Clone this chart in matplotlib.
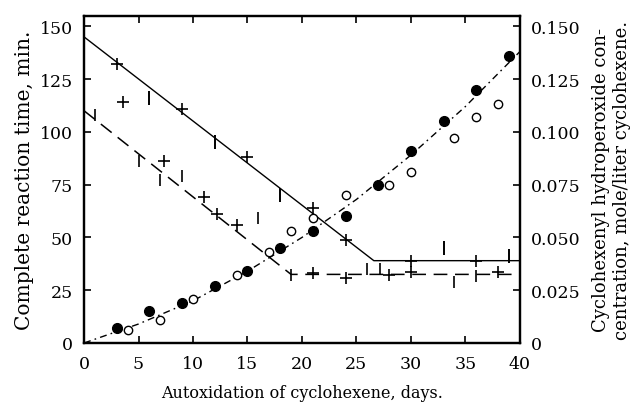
#!/usr/bin/env python3
# -*- coding: utf-8 -*-

import matplotlib
matplotlib.use('Agg')
import matplotlib.pyplot as plt

plt.rcParams['font.family'] = ['DejaVu Serif']

# complete reaction time, upper (solid) set
solid_bar_x = [0, 6, 12, 18, 33, 39]
solid_bar_y = [150, 116, 95, 70, 45, 41]
solid_cross_x = [3, 9, 15, 21, 24, 30, 36]
solid_cross_y = [132, 111, 88, 64, 49, 39, 39]
solid_line_x = [0, 26.6, 40]
solid_line_y = [145, 39, 39]

# complete reaction time, lower (dashed) set
dashed_bar_x = [1, 5, 7, 9, 16, 19, 26, 27.2, 34, 36]
dashed_bar_y = [108, 86, 77, 79, 59, 32, 35, 35, 29, 31.5]
dashed_cross_x = [3.6, 7.3, 11, 12.2, 14, 21, 24, 28, 30, 38]
dashed_cross_y = [114, 86, 69, 61, 56, 33, 31, 32, 33.5, 33.5]
dashed_line_x = [0, 19, 40]
dashed_line_y = [110, 32.5, 32.5]

# hydroperoxide concentration, mole/liter
filled_x = [3, 6, 9, 12, 15, 18, 21, 24, 27, 30, 33, 36, 39]
filled_y = [0.007, 0.015, 0.019, 0.027, 0.034, 0.045, 0.053, 0.060, 0.075,
            0.091, 0.105, 0.120, 0.136]
open_x = [4, 7, 10, 14, 17, 19, 21, 24, 28, 30, 34, 36, 38]
open_y = [0.006, 0.011, 0.021, 0.032, 0.043, 0.053, 0.059, 0.070, 0.075,
          0.081, 0.097, 0.107, 0.113]
curve_x = [0, 5, 10, 15, 20, 25, 30, 35, 40]
curve_y = [0.0, 0.009, 0.020, 0.034, 0.050, 0.068, 0.089, 0.112, 0.138]

left_ticks = [0, 25, 50, 75, 100, 125, 150]
right_ticks = [0, 0.025, 0.050, 0.075, 0.100, 0.125, 0.150]
right_labels = ['0', '0.025', '0.050', '0.075', '0.100', '0.125', '0.150']
x_ticks = [0, 5, 10, 15, 20, 25, 30, 35, 40]

fig = plt.figure(figsize=(6.37, 4.10), dpi=100)
ax = fig.add_axes([0.132, 0.161, 0.684, 0.798])
ax2 = ax.twinx()

ax.plot(solid_line_x, solid_line_y, '-', color='black', lw=1.0)
ax.plot(dashed_line_x, dashed_line_y, color='black', lw=1.1, dashes=(9, 5))
ax.plot(solid_bar_x, solid_bar_y, ls='none', marker='|', ms=10, mew=1.4,
        color='black', clip_on=False)
ax.plot(solid_cross_x, solid_cross_y, ls='none', marker='+', ms=9, mew=1.2,
        color='black')
ax.plot(dashed_bar_x, dashed_bar_y, ls='none', marker='|', ms=8, mew=1.2,
        color='black')
ax.plot(dashed_cross_x, dashed_cross_y, ls='none', marker='+', ms=8, mew=1.2,
        color='black')

ax2.plot(curve_x, curve_y, color='black', lw=1.0, dashes=(5, 3, 1.2, 3))
ax2.plot(filled_x, filled_y, ls='none', marker='o', ms=7, color='black')
ax2.plot(open_x, open_y, ls='none', marker='o', ms=6, mfc='white',
         mec='black', mew=1.0)

ax.set_xlim(0, 40)
ax.set_ylim(0, 155)
ax2.set_ylim(0, 0.155)

ax.set_xticks(x_ticks)
ax.set_xticklabels([str(t) for t in x_ticks])
ax.set_yticks(left_ticks)
ax.set_yticklabels([str(t) for t in left_ticks])
ax2.set_yticks(right_ticks)
ax2.set_yticklabels(right_labels)

ax.tick_params(axis='x', direction='in', top=True, length=5, width=1.2,
               labelsize=12.5, pad=9)
ax.tick_params(axis='y', direction='in', length=5, width=1.2, labelsize=12.5,
               pad=8)
ax2.tick_params(axis='y', direction='in', length=5, width=1.2, labelsize=12.5,
                pad=8)

for a in (ax, ax2):
    for sp in a.spines.values():
        sp.set_linewidth(1.6)

ax.set_xlabel('Autoxidation of cyclohexene, days.', fontsize=11.5, labelpad=8)
ax.set_ylabel('Complete reaction time, min.', fontsize=14.5, labelpad=4)
ax2.set_ylabel('Cyclohexenyl hydroperoxide con-\ncentration, mole/liter cyclohexene.',
               fontsize=13, labelpad=8, linespacing=1.25)

fig.savefig('out.png', dpi=100)
